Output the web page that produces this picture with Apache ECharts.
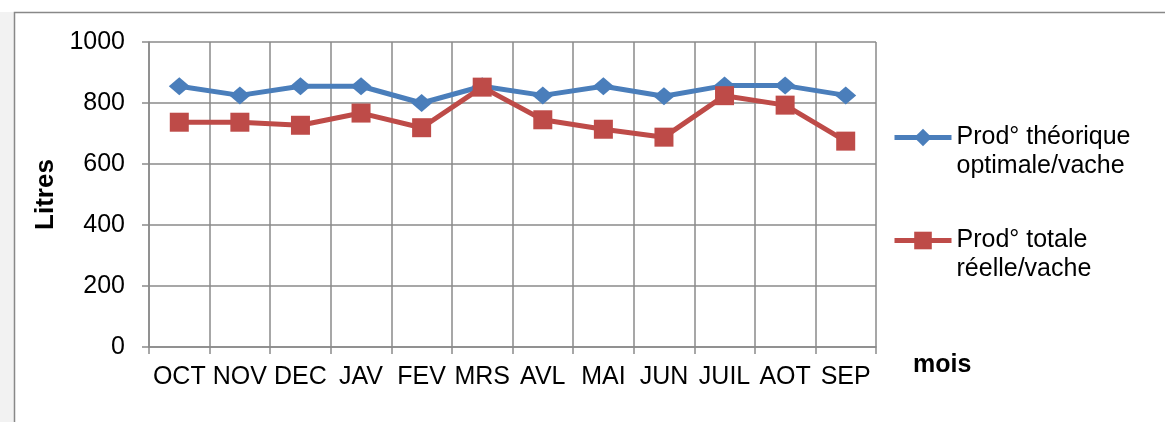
<!DOCTYPE html>
<html><head><meta charset="utf-8">
<script src="https://cdn.jsdelivr.net/npm/echarts@6/dist/echarts.min.js"></script>
<style>html,body{margin:0;padding:0;background:#fff}#c{width:1165px;height:422px}</style>
</head><body><div id="c"></div>
<script>
const categories = ['OCT','NOV','DEC','JAV','FEV','MRS','AVL','MAI','JUN','JUIL','AOT','SEP'];
const theorique = [855, 825, 855, 855, 800, 855, 825, 855, 822, 857, 857, 825];
const reelle = [737, 737, 727, 767, 719, 852, 745, 714, 688, 824, 793, 675];
const yTicks = {min: 0, max: 1000, interval: 200};
const seriesNames = ['Prod° théorique\noptimale/vache', 'Prod° totale\nréelle/vache'];

const FONT = 'Liberation Sans';
const FS = 25;
const grid = '#8a8a8a';
const chart = echarts.init(document.getElementById('c'), null, {renderer: 'canvas'});
chart.setOption({
  animation: false,
  backgroundColor: '#fff',
  graphic: [
    {type: 'rect', shape: {x: 0, y: 12, width: 14, height: 420}, style: {fill: '#f2f2f2'}, z: -10},
    {type: 'polyline', shape: {points: [[14.5, 430], [14.5, 12.5], [1170, 12.5]]}, style: {stroke: '#888', lineWidth: 1.5, fill: null}, z: -9}
  ],
  grid: {left: 149, right: 289, top: 42, bottom: 75, containLabel: false},
  legend: {
    orient: 'vertical', left: 892, top: 94, padding: 0, itemGap: 16,
    itemWidth: 57, itemHeight: 22,
    lineStyle: {width: 5},
    formatter: name => '\n' + name,
    textStyle: {fontFamily: FONT, fontSize: FS, color: '#000', lineHeight: 29},
    data: seriesNames
  },
  xAxis: {
    type: 'category', data: categories, boundaryGap: true,
    name: 'mois', nameLocation: 'end', nameGap: 37,
    nameTextStyle: {fontFamily: FONT, fontSize: FS, fontWeight: 'bold', color: '#000', verticalAlign: 'top', padding: [6, 0, 0, 0]},
    axisLine: {lineStyle: {color: grid, width: 1.5}},
    axisTick: {show: true, length: 7, lineStyle: {color: grid, width: 1.5}},
    axisLabel: {fontFamily: FONT, fontSize: FS, color: '#000', margin: 18, interval: 0},
    splitLine: {show: true, lineStyle: {color: grid, width: 1.5}}
  },
  yAxis: {
    type: 'value', min: yTicks.min, max: yTicks.max, interval: yTicks.interval,
    name: 'Litres', nameLocation: 'middle', nameGap: 85, nameRotate: 90,
    nameTextStyle: {fontFamily: FONT, fontSize: 26, fontWeight: 'bold', color: '#000'},
    axisLine: {show: true, lineStyle: {color: grid, width: 1.5}},
    axisTick: {show: true, length: 7, lineStyle: {color: grid, width: 1.5}},
    axisLabel: {fontFamily: FONT, fontSize: FS, color: '#000', margin: 24, formatter: v => String(v)},
    splitLine: {show: true, lineStyle: {color: grid, width: 1.5}}
  },
  series: [
    {name: seriesNames[0], type: 'line', data: theorique, symbol: 'diamond', symbolSize: [21, 18],
     lineStyle: {color: '#4A7EBB', width: 5}, itemStyle: {color: '#4A7EBB'}, z: 2},
    {name: seriesNames[1], type: 'line', data: reelle, symbol: 'rect', symbolSize: 19,
     lineStyle: {color: '#BE4B48', width: 5}, itemStyle: {color: '#BE4B48'}, z: 3}
  ]
});
</script></body></html>
